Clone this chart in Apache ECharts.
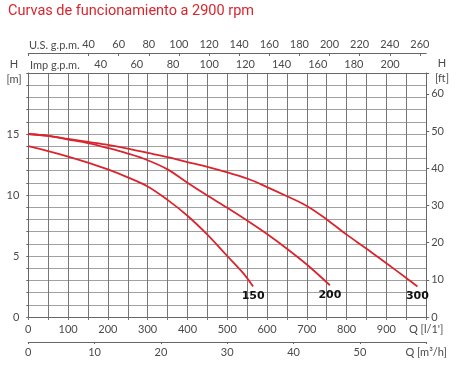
<!DOCTYPE html>
<html>
<head>
<meta charset="utf-8">
<script src="https://cdn.jsdelivr.net/npm/echarts@6/dist/echarts.min.js"></script>
<style>
html,body{margin:0;padding:0;background:#fff;}
#chart{width:459px;height:367px;}
</style>
</head>
<body>
<div id="chart"></div>
<script>
// ---- data (Q in l/min, H in m) ----
const curve150Q = [0, 50, 100, 150, 200, 250, 300, 350, 400, 450, 500, 540, 565];
const curve150H = [14.0, 13.6, 13.15, 12.65, 12.1, 11.45, 10.7, 9.6, 8.3, 6.75, 5.0, 3.6, 2.5];
const curve200Q = [0, 50, 100, 150, 200, 250, 300, 350, 400, 450, 500, 550, 600, 650, 700, 758];
const curve200H = [15.0, 14.85, 14.55, 14.25, 13.85, 13.4, 12.85, 12.1, 11.0, 9.95, 8.95, 7.9, 6.8, 5.6, 4.3, 2.6];
const curve300Q = [0, 50, 100, 150, 200, 250, 300, 350, 400, 450, 500, 550, 600, 650, 700, 750, 800, 850, 900, 950, 978];
const curve300H = [15.0, 14.85, 14.6, 14.35, 14.1, 13.8, 13.45, 13.1, 12.7, 12.3, 11.85, 11.35, 10.65, 9.9, 9.1, 8.0, 6.75, 5.6, 4.4, 3.2, 2.5];
const curveNames = ['150', '200', '300'];

// ---- tick labels ----
const lminLabels = [0, 100, 200, 300, 400, 500, 600, 700, 800, 900];
const m3hLabels = [0, 10, 20, 30, 40, 50];
const usGpmLabels = [40, 60, 80, 100, 120, 140, 160, 180, 200, 220, 240, 260];
const impGpmLabels = [40, 60, 80, 100, 120, 140, 160, 180, 200];
const hmLabels = [0, 5, 10, 15];
const hftLabels = [0, 10, 20, 30, 40, 50, 60];

const titleText = 'Curvas de funcionamiento a 2900 rpm';

// ---- unit conversions ----
const QMAX = 1000;            // l/min
const HMAX = 20;              // m
const usMax = QMAX / 3.785411784;
const impMax = QMAX / 4.54609;
const m3hMax = QMAX * 60 / 1000;
const ftMax = HMAX * 3.28084;

const FONT = 'Lato, "Open Sans", sans-serif';
const TXT = '#4a4a4a';
const AX = '#666';
const RED = '#d9262e';

function pairs(q, h, name) {
  return q.map((v, i) => {
    const item = { value: [v, h[i]] };
    if (i === q.length - 1) {
      item.label = {
        show: true, position: 'bottom', distance: 4,
        formatter: name, color: '#111', fontSize: 11, fontWeight: 'bold',
        fontFamily: '"DejaVu Sans", sans-serif'
      };
    }
    return item;
  });
}

const chart = echarts.init(document.getElementById('chart'), null, { renderer: 'canvas' });

const baseLabel = { color: TXT, fontSize: 11, fontFamily: FONT };

chart.setOption({
  animation: false,
  backgroundColor: '#fff',
  grid: { left: 28.3, right: 32.8, top: 73, bottom: 50, containLabel: false },
  graphic: [
    { type: 'text', left: 8, top: 4, style: { text: titleText, fill: RED, fontSize: 14.5, fontFamily: 'Roboto' } },
    { type: 'text', x: 29, y: 45, style: { text: 'U.S. g.p.m.', fill: TXT, fontSize: 11, fontFamily: FONT, verticalAlign: 'middle' } },
    { type: 'text', x: 30, y: 65, style: { text: 'Imp g.p.m.', fill: TXT, fontSize: 11, fontFamily: FONT, verticalAlign: 'middle' } },
    { type: 'text', x: 14, y: 64, style: { text: 'H', fill: TXT, fontSize: 11, fontFamily: FONT, align: 'center', verticalAlign: 'middle' } },
    { type: 'text', x: 14, y: 79, style: { text: '[m]', fill: TXT, fontSize: 11, fontFamily: FONT, align: 'center', verticalAlign: 'middle' } },
    { type: 'text', x: 442, y: 63, style: { text: 'H', fill: TXT, fontSize: 11, fontFamily: FONT, align: 'center', verticalAlign: 'middle' } },
    { type: 'text', x: 442, y: 78, style: { text: '[ft]', fill: TXT, fontSize: 11, fontFamily: FONT, align: 'center', verticalAlign: 'middle' } }
  ],
  xAxis: [
    { // l/min bottom
      type: 'value', position: 'bottom', min: 0, max: QMAX, interval: 50,
      axisLine: { show: true, onZero: false, lineStyle: { color: AX, width: 1 } },
      axisTick: { show: true, length: 3, lineStyle: { color: '#777' } },
      splitLine: { show: true, lineStyle: { color: '#777', width: 1 } },
      axisLabel: Object.assign({}, baseLabel, {
        margin: 7, customValues: lminLabels.concat([QMAX]),
        formatter: v => (v === QMAX ? "Q [l/1']" : String(v))
      })
    },
    { // m3/h bottom
      type: 'value', position: 'bottom', offset: 25, min: 0, max: m3hMax, interval: 10,
      axisLine: { show: true, onZero: false, lineStyle: { color: AX, width: 1 } },
      axisTick: { show: true, length: 2, lineStyle: { color: AX } },
      splitLine: { show: false },
      axisLabel: Object.assign({}, baseLabel, {
        margin: 5, customValues: m3hLabels.concat([m3hMax]),
        formatter: v => (Math.abs(v - m3hMax) < 1e-6 ? 'Q [m³/h]' : String(v))
      })
    },
    { // Imp gpm top
      type: 'value', position: 'top', offset: 0, min: 0, max: impMax, interval: 20,
      axisLine: { show: true, onZero: false, lineStyle: { color: AX, width: 1 } },
      axisTick: { show: false },
      splitLine: { show: false },
      axisLabel: Object.assign({}, baseLabel, { margin: 3, customValues: impGpmLabels })
    },
    { // US gpm top
      type: 'value', position: 'top', offset: 20, min: 0, max: usMax, interval: 20,
      axisLine: { show: true, onZero: false, lineStyle: { color: AX, width: 1 } },
      axisTick: { show: true, inside: true, length: 3, customValues: [0].concat(usGpmLabels), lineStyle: { color: AX } },
      splitLine: { show: false },
      axisLabel: Object.assign({}, baseLabel, { margin: 3, customValues: usGpmLabels })
    }
  ],
  yAxis: [
    { // m left
      type: 'value', position: 'left', min: 0, max: HMAX, interval: 1,
      axisLine: { show: true, onZero: false, lineStyle: { color: AX, width: 1 } },
      axisTick: { show: true, length: 2, lineStyle: { color: AX } },
      splitLine: { show: true, lineStyle: { color: '#a0a0a0', width: 1 } },
      axisLabel: Object.assign({}, baseLabel, { margin: 9, customValues: hmLabels })
    },
    { // ft right
      type: 'value', position: 'right', min: 0, max: ftMax, interval: 10,
      axisLine: { show: true, onZero: false, lineStyle: { color: AX, width: 1 } },
      axisTick: { show: true, length: 3, lineStyle: { color: AX } },
      splitLine: { show: false },
      axisLabel: Object.assign({}, baseLabel, { margin: 5, customValues: hftLabels })
    }
  ],
  series: [
    [curve150Q, curve150H], [curve200Q, curve200H], [curve300Q, curve300H]
  ].map((c, i) => ({
    type: 'line', name: curveNames[i], xAxisIndex: 0, yAxisIndex: 0,
    data: pairs(c[0], c[1], curveNames[i]),
    smooth: 0.35, symbol: 'circle', symbolSize: 0, showSymbol: true,
    lineStyle: { color: RED, width: 1.8 }, itemStyle: { color: RED },
    emphasis: { disabled: true }, silent: true, z: 5
  }))
});
</script>
</body>
</html>
